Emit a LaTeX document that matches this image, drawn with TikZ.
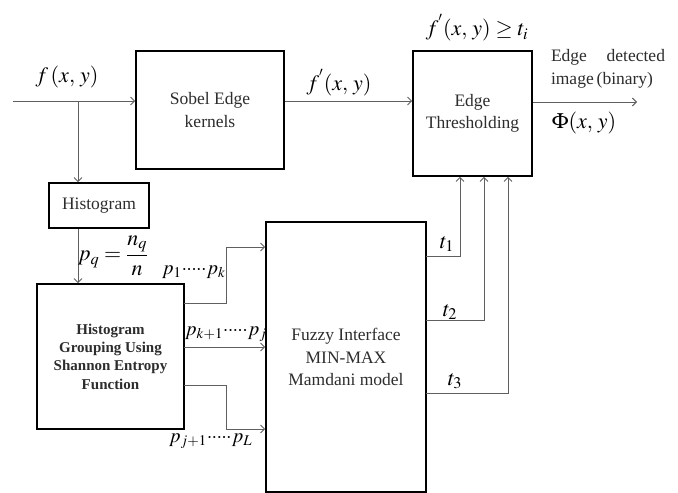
\documentclass[tikz,border=0pt]{standalone}
\usepackage{mathptmx}
\usepackage{fontspec}
\setmainfont{Liberation Serif}
\usetikzlibrary{arrows.meta,positioning,calc}
\definecolor{linegrey}{RGB}{95,95,95}
\definecolor{textgrey}{RGB}{45,45,45}
\newcommand{\pdots}{\hbox to 25pt{\xleaders\hbox to 4.2pt{\hss$\cdot$\hss}\hfill}}

\begin{document}
\begin{tikzpicture}[x=1pt, y=-1pt,
    block/.style={rectangle, draw=black, line width=1.6pt, align=center, text=textgrey,
                  font=\fontsize{17.5}{22.5}\selectfont, inner sep=0pt},
    boldblock/.style={block, font=\fontsize{15}{18.3}\selectfont\bfseries},
    flow/.style={draw=linegrey, line width=0.9pt, -{Straight Barb[length=4pt,width=8pt]}},
    wire/.style={draw=linegrey, line width=0.9pt},
    sym/.style={font=\fontsize{22}{26}\selectfont, inner sep=0pt},
    plabel/.style={font=\fontsize{20}{24}\selectfont, inner sep=0pt, anchor=west},
    caption/.style={font=\fontsize{17.5}{22.5}\selectfont, text=textgrey, inner sep=0pt}
]
    \useasboundingbox (0,0) rectangle (678,493);

    % blocks
    \node[block, minimum width=148pt, minimum height=118pt] (sobel) at (210,110) {Sobel Edge\\kernels};
    \node[block, minimum width=119pt, minimum height=125pt] (thresh) at (472.5,113.5) {Edge\\Thresholding};
    \node[block, minimum width=100pt, minimum height=45pt] (hist) at (99,205.5) {Histogram};
    \node[boldblock, minimum width=147pt, minimum height=145pt] (group) at (110.5,356.5)
        {Histogram\\Grouping Using\\Shannon Entropy\\Function};
    \node[block, minimum width=160pt, minimum height=270pt] (fuzzy) at (346,357)
        {Fuzzy Interface\\MIN-MAX\\Mamdani model};

    % input and edge path
    \coordinate (in) at (13,101);
    \coordinate (split) at (78,101);
    \coordinate (out) at (637,102);
    \draw[flow] (in) -- (in -| sobel.west);
    \draw[flow] (sobel.east |- in) -- (thresh.west |- in);
    \draw[flow] (thresh.east |- out) -- (out);
    \draw[flow] (split) -- (split |- hist.north);
    \draw[flow] (split |- hist.south) -- (split |- group.north);

    % grouping to fuzzy model
    \coordinate (gA) at (184,303);
    \coordinate (gB) at (184,347);
    \coordinate (gC) at (184,385);
    \draw[flow] (gA) -| (226,247) -- (fuzzy.west |- 0,247);
    \draw[flow] (gB) -- (fuzzy.west |- gB);
    \draw[flow] (gC) -| (226,429) -- (fuzzy.west |- 0,429);

    % thresholds back to edge thresholding
    \coordinate (tA) at (426,256);
    \coordinate (tB) at (426,320);
    \coordinate (tC) at (426,393);
    \draw[flow] (tA) -| (460,0 |- thresh.south);
    \draw[flow] (tB) -| (484,0 |- thresh.south);
    \draw[flow] (tC) -| (508,0 |- thresh.south);

    % labels
    \node[sym] (fin) at (67,77) {$f\,(x,\,y)$};
    \node[sym] (fsob) at (339,83) {$f^{'}(x,\,y)$};
    \node[sym] (cond) at (477,28) {$f^{'}(x,\,y)\geq t_{i}$};
    \node[caption, text width=114pt, align=left] (capt) at (608,69) {Edge\hfill detected\\image\,(binary)};
    \node[sym] (phi) at (584,123) {$\Phi(x,\,y)$};
    \node[sym] (pq) at (113,256) {$p_{q}=\displaystyle\frac{n_{q}}{n}$};
    \node[plabel] (p1) at (162,272) {$p_{1}$\pdots$p_{k}$};
    \node[plabel] (p2) at (185,334) {$p_{k+1}$\pdots$p_{j}$};
    \node[plabel] (p3) at (169,441) {$p_{j+1}$\pdots$p_{L}$};
    \node[sym] (t1) at (447,244) {$t_{1}$};
    \node[sym] (t2) at (450,312) {$t_{2}$};
    \node[sym] (t3) at (455,381) {$t_{3}$};
\end{tikzpicture}
\end{document}
